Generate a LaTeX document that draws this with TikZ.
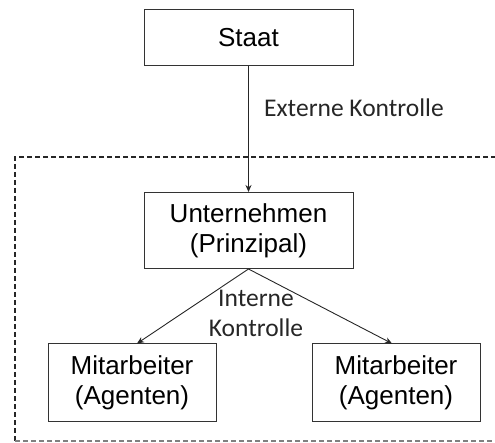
\documentclass[tikz,border=0pt]{standalone}
\usepackage{fontspec}
\setmainfont{Liberation Sans}
\newfontfamily\calib{Carlito}
\usetikzlibrary{arrows.meta}
\begin{document}
\begin{tikzpicture}[x=1pt,y=-1pt,
  boxstyle/.style={draw=black!80, line width=1pt, rectangle, inner sep=0pt, align=center,
    font=\fontsize{26}{30}\selectfont},
  conn/.style={draw=black!85, line width=0.9pt, -{Stealth[length=7pt,width=6pt]}},
  lbl/.style={font=\calib\fontsize{25.5}{30}\selectfont, inner sep=0pt, align=center, text=black!85},
  framedash/.style={line width=1.3pt, dash pattern=on 5pt off 3pt}]
\useasboundingbox (0,0) rectangle (495,443);
\coordinate (ftr) at (520,157);
\coordinate (ftl) at (15,157);
\coordinate (fbl) at (15,441);
\coordinate (fbr) at (520,441);
\draw[framedash, black!85] (ftr) -- (ftl) -- (fbl);
\draw[framedash, black!50] (fbl) -- (fbr);
\node[boxstyle, minimum width=209pt, minimum height=56pt] (staat) at (248.5,38) {Staat};
\node[boxstyle, minimum width=209pt, minimum height=76pt] (unt) at (248.5,230.5) {Unternehmen\\(Prinzipal)};
\node[boxstyle, minimum width=168pt, minimum height=77pt] (m1) at (132,382.5) {Mitarbeiter\\(Agenten)};
\node[boxstyle, minimum width=168pt, minimum height=77pt] (m2) at (396,382.5) {Mitarbeiter\\(Agenten)};
\draw[conn] (staat.south) -- (unt.north);
\draw[conn] (unt.south) -- ([xshift=5pt]m1.north);
\draw[conn] (unt.south) -- ([xshift=-4pt]m2.north);
\node[lbl, anchor=base west] (ext) at (264,117) {Externe Kontrolle};
\node[lbl, anchor=base] (int) at (256,337) {Interne\\Kontrolle};
\end{tikzpicture}
\end{document}
